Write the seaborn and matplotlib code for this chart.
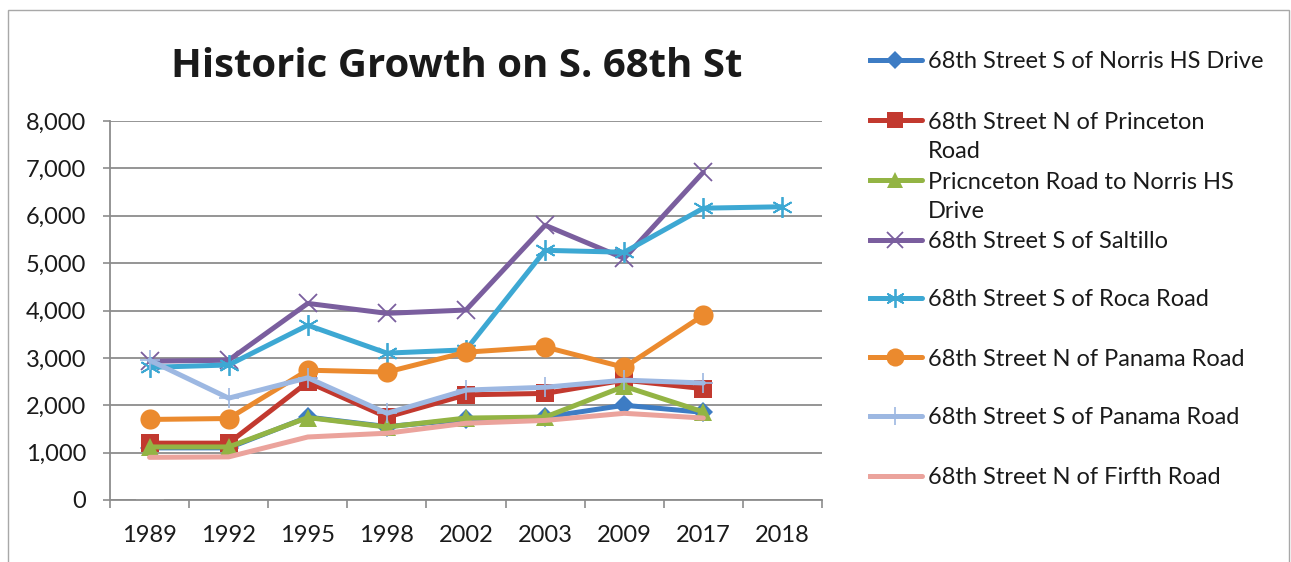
import numpy as np
import matplotlib
matplotlib.use("Agg")
import matplotlib.pyplot as plt
from matplotlib.patches import Rectangle
import seaborn as sns


W, H = 1291, 562

years = ["1989", "1992", "1995", "1998", "2002", "2003", "2009", "2017", "2018"]

norris_s = [1100, 1100, 1750, 1550, 1700, 1750, 2000, 1850, np.nan]
princeton_n = [1200, 1200, 2490, 1750, 2220, 2250, 2530, 2350, np.nan]
princeton_norris = [1120, 1120, 1740, 1540, 1730, 1750, 2400, 1860, np.nan]
saltillo_s = [2930, 2950, 4150, 3940, 4010, 5800, 5100, 6920, np.nan]
roca_s = [2800, 2850, 3690, 3100, 3170, 5270, 5230, 6160, 6190]
panama_n = [1700, 1720, 2740, 2700, 3120, 3230, 2800, 3900, np.nan]
panama_s = [2950, 2150, 2580, 1830, 2320, 2380, 2530, 2470, np.nan]
firfth_n = [900, 910, 1330, 1410, 1620, 1680, 1830, 1730, np.nan]

# stray light green dash sitting on the zero line at 1989
stray_years = ["1989"]
stray_vals = [0]

labels = [
    "68th Street S of Norris HS Drive",
    "68th Street N of Princeton\nRoad",
    "Pricnceton Road to Norris HS\nDrive",
    "68th Street S of Saltillo",
    "68th Street S of Roca Road",
    "68th Street N of Panama Road",
    "68th Street S of Panama Road",
    "68th Street N of Firfth Road",
]
series = [norris_s, princeton_n, princeton_norris, saltillo_s,
          roca_s, panama_n, panama_s, firfth_n]

styles = [
    dict(color="#3D7CC4", marker="D", markersize=10.5, mew=0),
    dict(color="#C2392F", marker="s", markersize=13.5, mew=0),
    dict(color="#93B444", marker="^", markersize=13.5, mew=0),
    dict(color="#7A5E9E", marker="x", markersize=13.5, mew=1.3),
    dict(color="#3DA8D3", marker=(6, 2, 0), markersize=15, mew=1.3),
    dict(color="#EB8A2E", marker="o", markersize=14.5, mew=0),
    dict(color="#9DB8E2", marker="+", markersize=14, mew=1.2),
    dict(color="#EBA39C", marker="", markersize=0, mew=0),
]

sns.set_style("white")
plt.rcParams["font.family"] = ["Lato", "DejaVu Sans"]

fig = plt.figure(figsize=(W / 100, H / 100), dpi=100)
ax = fig.add_axes([110 / W, 1 - 500 / H, (822 - 110) / W, (500 - 121) / H])

for vals, st in zip(series, styles):
    sns.lineplot(x=years, y=vals, ax=ax, sort=False, linewidth=3.6,
                 color=st["color"], marker=st["marker"],
                 markersize=st["markersize"], markeredgewidth=st["mew"],
                 markeredgecolor=st["color"], legend=False, clip_on=False)

sns.lineplot(x=stray_years, y=stray_vals, ax=ax, linewidth=0, marker="_",
             markersize=20, markeredgewidth=4, color="#CFDB8A", legend=False,
             clip_on=False)

ax.set_xlim(-0.5, len(years) - 0.5)
ax.set_ylim(0, 8000)
ax.set_yticks(range(0, 8001, 1000))
ax.set_yticklabels([f"{v:,}" for v in range(0, 8001, 1000)])
ax.set_xticks(range(len(years)))
ax.set_xticklabels(years)
ax.set_xticks(np.arange(-0.5, len(years), 1.0), minor=True)
ax.set_xlabel("")
ax.set_ylabel("")

grid_c = "#8C8C8C"
ax.yaxis.grid(True, color=grid_c, linewidth=1.3)
ax.xaxis.grid(False)
ax.set_axisbelow(True)
for s in ["top", "right"]:
    ax.spines[s].set_visible(False)
for s in ["left", "bottom"]:
    ax.spines[s].set_color(grid_c)
    ax.spines[s].set_linewidth(1.3)

ax.tick_params(axis="y", which="major", direction="out", length=5, width=1.2,
               color=grid_c, labelsize=17, pad=12, left=True)
ax.tick_params(axis="x", which="major", length=0, labelsize=17, pad=18)
ax.tick_params(axis="x", which="minor", direction="out", length=6, width=1.2,
               color=grid_c, bottom=True)
for t in ax.get_xticklabels() + ax.get_yticklabels():
    t.set_color("#1A1A1A")

fig.text(457 / W, 1 - 77 / H, "Historic Growth on S. 68th St", ha="center",
         va="baseline", fontsize=29, fontweight="bold", color="#1A1A1A",
         family=["Open Sans", "DejaVu Sans"])

# legend drawn on its own axes so the wrapped labels keep even spacing
entry_y = [60, 120, 180, 240, 298, 357, 416, 476]
lax = fig.add_axes([868 / W, 0, (W - 868) / W, 1])
lax.set_xlim(0, W - 868)
lax.set_ylim(H, 0)
lax.axis("off")
for y, lab, st in zip(entry_y, labels, styles):
    lax.plot([0, 54], [y, y], color=st["color"], linewidth=3.6,
             solid_capstyle="round")
    if st["marker"]:
        lax.plot([27], [y], linestyle="none", color=st["color"],
                 marker=st["marker"], markersize=st["markersize"] * 0.9,
                 markeredgewidth=st["mew"], markeredgecolor=st["color"])
    # center_baseline on a two-line text sits half a line lower
    shift = 11 if "\n" in lab else 0
    lax.text(60, y + shift, lab, ha="left", va="center_baseline", fontsize=17,
             color="#1A1A1A", linespacing=1.5)

fig.patches.append(Rectangle((8 / W, -0.05), (1289 - 8) / W, 1.05 - 10 / H,
                             transform=fig.transFigure, fill=False,
                             edgecolor="#A8A8A8", linewidth=1.0))

fig.savefig("out.png", dpi=100)
